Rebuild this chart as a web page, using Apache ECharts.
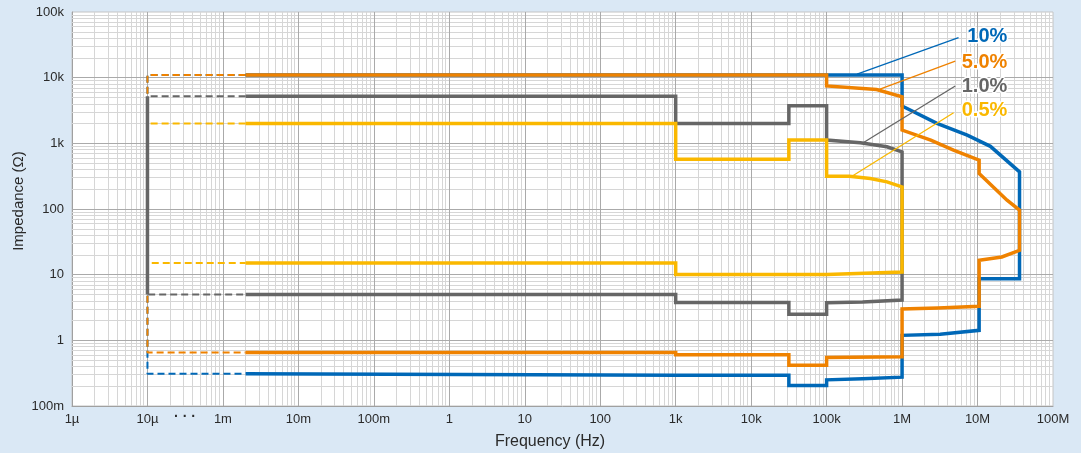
<!DOCTYPE html>
<html>
<head>
<meta charset="utf-8">
<script src="https://cdn.jsdelivr.net/npm/echarts@6/dist/echarts.min.js"></script>
<style>
html,body{margin:0;padding:0;background:#dae8f5;}
#chart{width:1081px;height:453px;}
</style>
</head>
<body>
<div id="chart"></div>
<script>
// ---- tick labels ----
const xTickLabels = ['1µ','10µ','1m','10m','100m','1','10','100','1k','10k','100k','1M','10M','100M'];
const yTickLabels = ['100m','1','10','100','1k','10k','100k'];

// ---- series names & colours ----
const seriesNames = ['10%','5.0%','1.0%','0.5%'];
const seriesColors = ['#0068b7','#ef8200','#666666','#fab800'];

// ---- data: [frequency Hz, impedance Ω] ----
const dashStart = 1e-5;   // 10µHz (dashed part)
const solidStart = 2e-3;  // 2mHz (solid part begins)

const blueUpper = [[2e-3,11000],[1e6,11000],[1e6,3700],[2.9e6,2010],[7.3e6,1330],[14.8e6,900],[36e6,368]];
const blueLower = [[2e-3,0.31],[1e3,0.31],[1e3,0.295],[31.6e3,0.295],[31.6e3,0.206],[1e5,0.206],[1e5,0.25],[3e5,0.26],[1e6,0.275],[1e6,1.19],[3.2e6,1.24],[10.5e6,1.42],[10.5e6,8.7],[36e6,8.7]];

const orangeUpper = [[2e-3,11000],[1e5,11000],[1e5,7500],[4.6e5,6600],[1e6,5100],[1e6,1590],[2.4e6,1120],[4.8e6,790],[10.5e6,555],[10.5e6,348],[24.6e6,136],[36e6,96],[36e6,88]];
const orangeLower = [[2e-3,0.65],[1e3,0.65],[1e3,0.605],[31.6e3,0.605],[31.6e3,0.416],[1e5,0.416],[1e5,0.55],[1e6,0.56],[1e6,3.0],[3e6,3.1],[10.5e6,3.3],[10.5e6,16.6],[21e6,18.6],[36e6,23.5]];

const grayUpper = [[2e-3,5200],[1e3,5200],[1e3,2000],[31.6e3,2000],[31.6e3,3730],[1e5,3730],[1e5,1120],[2.8e5,1020],[6.3e5,885],[1e6,740]];
const grayLower = [[2e-3,5],[1e3,5],[1e3,3.76],[31.6e3,3.76],[31.6e3,2.5],[1e5,2.5],[1e5,3.75],[3e5,3.85],[1e6,4.1]];

const yellowUpper = [[2e-3,2000],[1e3,2000],[1e3,570],[31.6e3,570],[31.6e3,1120],[1e5,1120],[1e5,316],[2e5,316],[3.8e5,292],[6.3e5,259],[1e6,217]];
const yellowLower = [[2e-3,15],[1e3,15],[1e3,10.1],[1e5,10.1],[1e6,11]];

// ---- annotation leader lines: [from, to] in [Hz, Ω]; label anchor [Hz, Ω] ----
const leaderFrom = [[2.53e5,11300],[4.89e5,6600],[2.94e5,995],[2.17e5,316]];
const leaderTo   = [[5.6e6,40600],[5.07e6,17900],[5.07e6,7450],[4.82e6,2920]];
const labelAnchor = [[24.8e6,42000],[24.8e6,17300],[24.8e6,7450],[24.8e6,3200]];

// x axis: decades 1µ..10µ normal, 10µ..1m compressed into one decade, then normal
function freqToPos(f) {
  const l = Math.log10(f);
  if (l <= -5) return l + 6;
  if (l >= -3) return l + 5;
  return 1 + (l + 5) / 2;
}
const toXY = p => [freqToPos(p[0]), p[1]];

const uppers = [blueUpper, orangeUpper, grayUpper, yellowUpper];
const lowers = [blueLower, orangeLower, grayLower, yellowLower];

// grid lines
const gridLines = [];
const minorStyle = {color:'#d6d6d6', width:1, type:'solid'};
const majorStyle = {color:'#aaaaaa', width:1, type:'solid'};
for (let d = 0; d < 13; d++) {
  for (let k = 2; k <= 9; k++) gridLines.push({xAxis: d + Math.log10(k), lineStyle: minorStyle});
}
for (let e = -1; e < 5; e++) {
  for (let k = 2; k <= 9; k++) gridLines.push({yAxis: k * Math.pow(10, e), lineStyle: minorStyle});
}
for (let d = 1; d < 13; d++) gridLines.push({xAxis: d, lineStyle: majorStyle});
for (let e = 0; e < 5; e++) gridLines.push({yAxis: Math.pow(10, e), lineStyle: majorStyle});

const series = [];
series.push({
  type:'line', data:[[0,1]], showSymbol:false, lineStyle:{opacity:0}, silent:true, z:1,
  markLine:{z:1, silent:true, symbol:['none','none'], label:{show:false}, animation:false, data:gridLines}
});
// dashed parts
for (let i = 0; i < 4; i++) {
  const u = uppers[i][0][1], lo = lowers[i][0][1];
  series.push({
    type:'line', z:10, showSymbol:false, silent:true,
    data:[[solidStart,u],[dashStart,u],[dashStart,lo],[solidStart,lo]].map(toXY),
    lineStyle:{color:seriesColors[i], width:2, type:[7,4]}
  });
}
// solid vertical for 1.0% at 10µ
series.push({
  type:'line', z:11, showSymbol:false, silent:true,
  data:[[dashStart, grayUpper[0][1]],[dashStart, grayLower[0][1]]].map(toXY),
  lineStyle:{color:seriesColors[2], width:3.5, type:'solid'}
});
// solid contours
for (let i = 0; i < 4; i++) {
  const pts = uppers[i].concat(lowers[i].slice().reverse()).map(toXY);
  series.push({
    name: seriesNames[i], type:'line', z:12+i, showSymbol:false, silent:true,
    data: pts,
    lineStyle:{color:seriesColors[i], width:3.5, type:'solid', join:'miter', cap:'butt'},
    markLine:{
      z:20, silent:true, symbol:['none','none'], animation:false,
      label:{show:false},
      lineStyle:{color:seriesColors[i], width:1.3, type:'solid'},
      data:[[{coord:toXY(leaderFrom[i])},{coord:toXY(leaderTo[i])}]]
    },
    markPoint:{
      z:21, silent:true, symbol:'circle', symbolSize:0, animation:false,
      data:[{coord:toXY(labelAnchor[i])}],
      label:{show:true, position:'left', distance:0, formatter:seriesNames[i],
        color:seriesColors[i], fontSize:20, fontWeight:'bold',
        fontFamily:'Liberation Sans, Arial, sans-serif',
        textBorderColor:'#ffffff', textBorderWidth:3}
    }
  });
}

const chart = echarts.init(document.getElementById('chart'), null, {renderer:'canvas'});
chart.setOption({
  backgroundColor:'#dae8f5',
  animation:false,
  grid:{left:72, right:28, top:12, bottom:47, show:true, backgroundColor:'#ffffff', borderColor:'#c4c4c4', borderWidth:1},
  xAxis:{
    type:'value', min:0, max:13, interval:1,
    axisLine:{show:true, lineStyle:{color:'#a0a0a0'}},
    axisTick:{show:false},
    splitLine:{show:false},
    axisLabel:{margin:7, color:'#2a2a2a', fontSize:13, fontFamily:'Liberation Sans, Arial, sans-serif',
      formatter: v => xTickLabels[Math.round(v)]}
  },
  yAxis:{
    type:'log', logBase:10, min:0.1, max:100000,
    axisLine:{show:true, lineStyle:{color:'#a0a0a0'}},
    axisTick:{show:false},
    splitLine:{show:false},
    axisLabel:{margin:8, color:'#2a2a2a', fontSize:13, fontFamily:'Liberation Sans, Arial, sans-serif',
      formatter: v => yTickLabels[Math.round(Math.log10(v)) + 1]}
  },
  graphic:[
    {type:'text', x:19, y:201, rotation:Math.PI/2,
     style:{text:'Impedance (Ω)', fill:'#2a2a2a', font:'15px "Liberation Sans", Arial, sans-serif', align:'center', verticalAlign:'middle'}},
    {type:'text', x:550, y:442,
     style:{text:'Frequency (Hz)', fill:'#2a2a2a', font:'16px "Liberation Sans", Arial, sans-serif', align:'center', verticalAlign:'middle'}},
    {type:'text', x:185, y:417,
     style:{text:'· · ·', fill:'#2a2a2a', font:'bold 14px "Liberation Sans", Arial, sans-serif', align:'center', verticalAlign:'middle'}}
  ],
  series: series
});
</script>
</body>
</html>
